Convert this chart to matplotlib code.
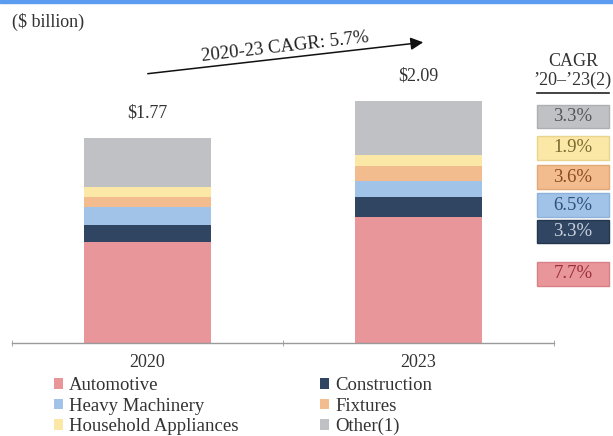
import matplotlib
matplotlib.use("Agg")
import matplotlib.pyplot as plt
from matplotlib.patches import Rectangle
from matplotlib.font_manager import FontProperties
import numpy as np

plt.rcParams['font.family'] = ['Liberation Serif', 'DejaVu Serif']

years = ["2020", "2023"]
segments = ["Automotive", "Construction", "Heavy Machinery", "Fixtures",
            "Household Appliances", "Other(1)"]
values_2020 = [0.87, 0.15, 0.15, 0.09, 0.09, 0.42]
values_2023 = [1.09, 0.17, 0.14, 0.13, 0.09, 0.47]
totals = ["$1.77", "$2.09"]
seg_cagr = ["7.7%", "3.3%", "6.5%", "3.6%", "1.9%", "3.3%"]
total_cagr = "2020-23 CAGR: 5.7%"

colors = ["#E8969A", "#2F4561", "#A2C3E8", "#F2BC8E", "#FBE7A6", "#C0C1C5"]
box_text = ["#9B2F37", "#C9D2DE", "#2F4F7B", "#8A4A22", "#7A6A2E", "#555558"]
edge_cols = ["#D98086", "#23364D", "#8EB2DA", "#E3A877", "#EAD48E", "#AEAFB3"]

FS = 13
W, H = 613, 436
fig = plt.figure(figsize=(W / 100, H / 100), dpi=100)

def fy(py):
    return 1 - py / H

def fx(px):
    return px / W

# top blue stripe
fig.patches.append(Rectangle((0, fy(3.5)), 1, 3.5 / H, transform=fig.transFigure,
                             color="#5B9CF0", zorder=0))

px_per_b = 115.9
ax_left, ax_right, base_py, top_py = 12, 554, 343, 40
ax = fig.add_axes([fx(ax_left), fy(base_py), (ax_right - ax_left) / W,
                   (base_py - top_py) / H])
ax.set_ylim(0, (base_py - top_py) / px_per_b)
ax.set_xlim(-0.5, 1.5)

x = np.arange(len(years))
data = np.array([values_2020, values_2023])
bottoms = np.zeros(len(years))
handles = []
for i, seg in enumerate(segments):
    h = ax.bar(x, data[:, i], width=0.465, bottom=bottoms, color=colors[i],
               label=seg, zorder=2)
    handles.append(h)
    bottoms += data[:, i]

for xi, tot, lab in zip(x, bottoms, totals):
    ax.annotate(lab, (xi, tot), xytext=(0, 12), textcoords="offset points",
                ha="center", va="bottom", fontsize=FS, color="#333333")

for s in ["top", "left", "right"]:
    ax.spines[s].set_visible(False)
ax.spines["bottom"].set_color("#9A9A9A")
ax.spines["bottom"].set_linewidth(1.0)
ax.set_yticks([])
ax.set_xticks(x)
ax.set_xticklabels(years, fontsize=FS, color="#333333")
ax.tick_params(axis="x", which="major", length=0, pad=8)
ax.set_xticks([-0.5, 0.5, 1.5], minor=True)
ax.tick_params(axis="x", which="minor", length=5, color="#9A9A9A", direction="inout")

# unit label
fig.text(fx(12), fy(22), "($ billion)", fontsize=FS, color="#333333",
         ha="left", va="center")

# CAGR arrow
fig.patches.append(matplotlib.patches.FancyArrowPatch(
    (fx(145), fy(74)), (fx(426), fy(42)), transform=fig.transFigure,
    arrowstyle="-|>,head_length=5,head_width=2.5", color="#111111", lw=1.1,
    mutation_scale=1.5))
fig.text(fx(285), fy(47), total_cagr, fontsize=13.5, color="#222222",
         ha="center", va="center", rotation=6.5, rotation_mode="anchor")

# CAGR header
fig.text(fx(573), fy(61), "CAGR", fontsize=FS, color="#333333", ha="center", va="center")
fig.text(fx(572), fy(80), "\u201920\u2013\u201923(2)", fontsize=FS, color="#333333",
         ha="center", va="center")
fig.add_artist(plt.Line2D([fx(537), fx(609)], [fy(93), fy(93)], transform=fig.transFigure,
                          color="#222222", lw=1.2))

# CAGR boxes (top, bottom pixel rows), in segment order
box_rows = [(262, 286), (220, 243), (193, 217), (165, 189), (136, 160), (105, 128)]
for i, (t, b) in enumerate(box_rows):
    fig.patches.append(Rectangle((fx(537), fy(b)), (609 - 537) / W, (b - t) / H,
                                 transform=fig.transFigure, facecolor=colors[i],
                                 edgecolor=edge_cols[i], lw=1.0))
    fig.text(fx(573), fy((t + b) / 2), seg_cagr[i], fontsize=13.5, color=box_text[i],
             ha="center", va="center")

# legends
leg_font = FontProperties(family="Liberation Serif", size=13.5)
leg_kw = dict(frameon=False, prop=leg_font,
              handlelength=0.5, handleheight=0.5,
              handletextpad=0.3, labelspacing=0.19, borderpad=0, borderaxespad=0,
              labelcolor="#333333")
l1 = fig.legend([handles[0], handles[2], handles[4]],
                [segments[0], segments[2], segments[4]],
                loc="upper left", bbox_to_anchor=(fx(54), fy(377)), **leg_kw)
l2 = fig.legend([handles[1], handles[3], handles[5]],
                [segments[1], segments[3], segments[5]],
                loc="upper left", bbox_to_anchor=(fx(320), fy(377)), **leg_kw)

fig.savefig("out.png", dpi=100)
